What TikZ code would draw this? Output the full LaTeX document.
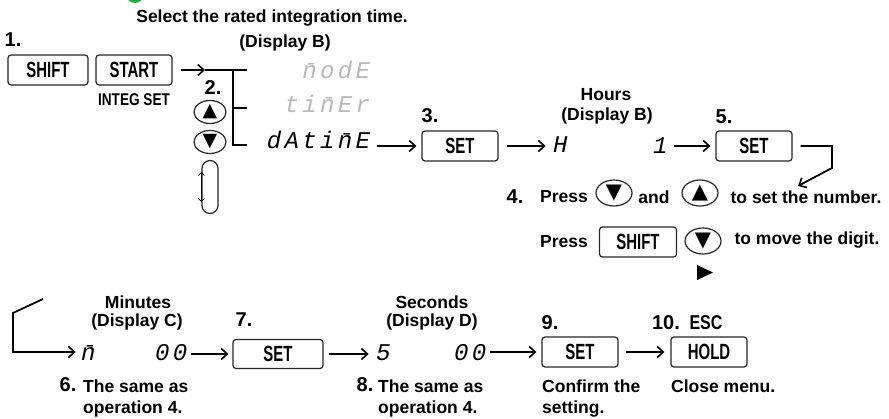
\documentclass[tikz,border=0pt]{standalone}
\usepackage{fontspec}
\setmainfont{Liberation Sans}
\newfontfamily\keyfont{Liberation Sans}[FakeStretch=0.68]
\newfontfamily\capfont{Liberation Sans}[FakeStretch=0.8]
\newfontfamily\segfont{Liberation Mono}[FakeSlant=0.2,LetterSpace=14]
\newfontfamily\symfont{DejaVu Sans}
\usetikzlibrary{positioning,arrows.meta,shapes.geometric}
\definecolor{segoff}{gray}{0.72}
\definecolor{okgreen}{RGB}{34,170,70}

\begin{document}
\begin{tikzpicture}[x=1pt, y=-1pt, every node/.style={inner sep=0pt},
  txt/.style={font=\fontsize{17.5}{21}\selectfont\bfseries},
  num/.style={font=\fontsize{20}{21}\selectfont\bfseries},
  key/.style={draw=black!85, line width=1.2pt, rounded corners=3pt, minimum width=76, minimum height=30, font=\keyfont\fontsize{22}{22}\selectfont\bfseries},
  keytxt/.style={font=\capfont\fontsize{17}{17}\selectfont\bfseries},
  rbtn/.style={draw=black!85, line width=1.2pt, ellipse, minimum width=32, minimum height=23, font=\symfont\fontsize{19}{19}\selectfont},
  bigbtn/.style={rbtn, minimum width=36, minimum height=26, font=\symfont\fontsize{21}{21}\selectfont},
  seg/.style={font=\segfont\fontsize{24}{24}\selectfont},
  segdim/.style={seg, text=segoff},
  flow/.style={-{Straight Barb[length=6pt,width=11pt,line width=1.6pt]}, line width=1.8pt},
  brk/.style={line width=1.8pt}]
\useasboundingbox (0,0) rectangle (889,419);
\fill[okgreen] (135,-6) circle (9);

% step 1
\node[txt] (title) at (272,18) {Select the rated integration time.};
\node[txt] (dispb) at (285,43) {(Display B)};
\node[num] (n1) at (13,40) {1.};
\node[key, minimum width=80] (shift) at (48,70) {SHIFT};
\node[key] (start) at (134,70) {START};
\node[keytxt] (integ) at (134,100) {INTEG SET};

% step 2: menu selection
\coordinate (brin) at (205,70);
\coordinate (brx) at (233,70);
\coordinate (brend) at (247,70);
\coordinate (brmid) at (247,108);
\coordinate (brlow) at (247,145);
\draw[flow, shorten <=8pt] (start) -- (brin);
\draw[brk] (brin) -- (brend);
\draw[brk] (brx) |- (brlow);
\draw[brk] (brx |- brmid) -- (brmid);
\node[num] (n2) at (213,88) {2.};
\node[rbtn] (up2) at (210,112) {▲};
\node[rbtn] (dn2) at (210,142) {▼};
\node[draw=black!85, line width=1.2pt, rounded corners=8pt, minimum width=16, minimum height=53] (loop) at (210,187) {};
\draw[{Straight Barb[length=3pt,width=6pt]}-{Straight Barb[length=3pt,width=6pt]}, line width=0.8pt] ([yshift=-12pt]loop.north west) -- ([yshift=12pt]loop.south west);
\node[segdim, anchor=base east] (dmode) at (369,79) {\=nodE};
\node[segdim, anchor=base east] (dtimer) at (369,113) {ti\=nEr};
\node[seg, anchor=base east] (ddatime) at (369,149) {dAti\=nE};

% step 3 to 5: hours
\node[key] (set3) at (460,146) {SET};
\node[num] (n3) at (430,116) {3.};
\draw[flow, shorten <=8pt, shorten >=5pt] (ddatime.east |- set3) -- (set3.west);
\node[seg, anchor=base] (dh) at (559,153) {H};
\node[seg, anchor=base] (dh1) at (659,154) {1};
\node[txt] (hours) at (606,95) {Hours};
\node[txt] (dispb2) at (607,116) {(Display B)};
\draw[flow, shorten <=8pt, shorten >=6pt] (set3.east) -- (dh.west |- set3);
\node[key] (set5) at (754,146) {SET};
\node[num] (n5) at (724,117) {5.};
\draw[flow, shorten <=8pt, shorten >=5pt] (dh1.east |- set5) -- (set5.west);
\coordinate (bendA) at (832,146);
\coordinate (bendB) at (832,168);
\coordinate (bendC) at (798,186);
\draw[flow, shorten <=8pt] (set5.east) -- (bendA) -- (bendB) -- (bendC);

% step 4: number setting
\node[num] (n4) at (515,197) {4.};
\node[txt] (press4) at (564,197) {Press};
\node[bigbtn] (dn4) at (614,193) {▼};
\node[txt] (and4) at (654,197) {and};
\node[bigbtn] (up4) at (700,193) {▲};
\node[txt] (number4) at (806,197) {to set the number.};
\node[txt] (press5) at (564,242) {Press};
\node[key, minimum width=77] (shift5) at (638,242) {SHIFT};
\node[bigbtn] (dn5) at (703,241) {▼};
\node[txt] (digit) at (807,240) {to move the digit.};
\fill (697,265) -- (713,272.5) -- (697,280) -- cycle;

% step 6 to 10: minutes, seconds
\coordinate (ret0) at (43,299);
\coordinate (ret1) at (13,313);
\coordinate (ret2) at (13,352);
\node[seg, anchor=base] (dmin) at (87,361) {\=n};
\node[seg, anchor=base] (dmin00) at (170,361) {00};
\draw[flow, shorten >=4pt] (ret0) -- (ret1) -- (ret2) -- (ret2 -| dmin.west);
\node[txt] (minutes) at (138,302) {Minutes};
\node[txt] (dispc) at (137,322) {(Display C)};
\node[key, minimum width=90, minimum height=29] (set7) at (278,354) {SET};
\node[num] (n7) at (244,320) {7.};
\draw[flow, shorten <=5pt, shorten >=4pt] (dmin00.east |- set7) -- (set7.west);
\node[seg, anchor=base] (dsec) at (382,361) {5};
\node[seg, anchor=base] (dsec00) at (469,361) {00};
\draw[flow, shorten <=5pt, shorten >=6pt] (set7.east) -- (dsec.west |- set7);
\node[txt] (seconds) at (432,302) {Seconds};
\node[txt] (dispd) at (432,322) {(Display D)};
\node[key] (set9) at (580,352) {SET};
\node[num] (n9) at (550,323) {9.};
\draw[flow, shorten <=5pt, shorten >=5pt] (dsec00.east |- set9) -- (set9.west);
\node[key] (hold) at (709,352) {HOLD};
\node[num] (n10) at (666,323) {10.};
\node[keytxt, font=\capfont\fontsize{20}{20}\selectfont\bfseries] (esc) at (706,323) {ESC};
\draw[flow, shorten <=7pt, shorten >=6pt] (set9) -- (hold);
\node[num] (n6) at (68,385) {6.};
\node[txt, anchor=north west, align=left] (same6) at (83,380) {The same as\\operation 4.};
\node[num] (n8) at (365,385) {8.};
\node[txt, anchor=north west, align=left] (same8) at (378,380) {The same as\\operation 4.};
\node[txt, anchor=north west, align=left] (confirm) at (542,380) {Confirm the\\setting.};
\node[txt, anchor=west] (close) at (671,386) {Close menu.};
\end{tikzpicture}
\end{document}
